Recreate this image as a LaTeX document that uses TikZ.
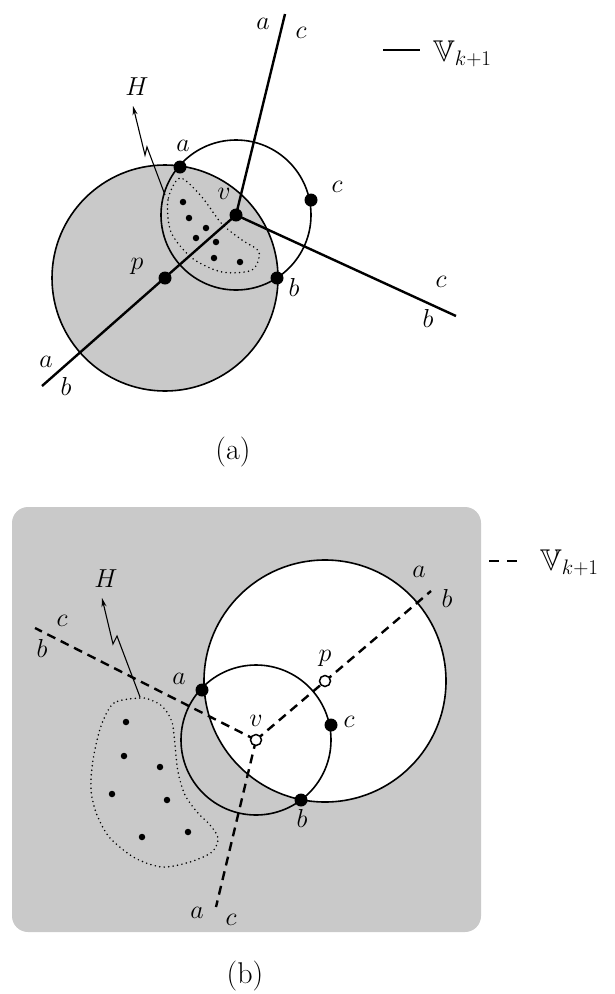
\RequirePackage{fix-cm}
\documentclass[tikz,border=0pt]{standalone}
\usepackage{amssymb}
\usetikzlibrary{arrows.meta}
\definecolor{bgray}{gray}{0.79}
\begin{document}
\begin{tikzpicture}[x=1pt,y=-1pt,
  lbl/.style={font=\fontsize{26}{30}\selectfont, inner sep=0pt},
  legtxt/.style={font=\fontsize{30}{34}\selectfont, inner sep=0pt, anchor=west},
  captxt/.style={font=\fontsize{30}{34}\selectfont, inner sep=0pt},
  dotb/.style={circle, fill=black, inner sep=0pt, minimum size=13pt},
  dots/.style={circle, fill=black, inner sep=0pt, minimum size=6.5pt},
  odot/.style={circle, draw=black, fill=white, line width=1.5pt, inner sep=0pt, minimum size=11pt},
  solidln/.style={line width=2.4pt},
  dashln/.style={line width=2.4pt, dash pattern=on 9pt off 6pt},
  circ/.style={line width=1.6pt},
  hull/.style={line width=1.7pt, dash pattern=on 0pt off 4.5pt, line cap=round},
  harrow/.style={line width=1.1pt, -{Stealth[length=9pt,width=5pt]}}
]
\useasboundingbox (0,0) rectangle (615,994);

% ================= (a) =================
\coordinate (P) at (165,278);
\coordinate (V) at (236,215);
\coordinate (Ae) at (42,386);
\coordinate (Ue) at (285,14);
\coordinate (Re) at (456,316);
\fill[bgray] (P) circle (113pt);
\draw[circ] (P) circle (113pt);
\draw[circ] (V) circle (75pt);

\draw[hull] plot[smooth cycle] coordinates {(180,178) (168,200) (171,232) (192,258) (222,272) (252,270) (259,252) (242,240) (222,224) (201,196)};
\foreach \i/\p in {1/{(183,202)},2/{(189,218)},3/{(206,228)},4/{(196,238)},5/{(216,242)},6/{(214,258)},7/{(240,262)}}
  \node[dots] (ta\i) at \p {};

\draw[solidln] (Ae) -- (V);
\draw[solidln] (V) -- (Ue);
\draw[solidln] (V) -- (Re);

\node[dotb] (ta) at (180,167) {};
\node[dotb] (tb) at (277,278) {};
\node[dotb] (tc) at (311,200) {};
\node[dotb] (tp) at (P) {};
\node[dotb] (tv) at (V) {};

\node[lbl] at (183,146) {$a$};
\node[lbl] at (224,194) {$v$};
\node[lbl] at (337,187) {$c$};
\node[lbl] at (294,287) {$b$};
\node[lbl] at (137,266) {$p$};
\node[lbl] at (263,24) {$a$};
\node[lbl] at (301,33) {$c$};
\node[lbl] at (441,282) {$c$};
\node[lbl] at (428,318) {$b$};
\node[lbl] at (46,362) {$a$};
\node[lbl] at (66,386) {$b$};
\node[lbl] (tH) at (137,87) {$H$};
\coordinate (tHe) at (165,195);
\coordinate (tHt) at (133,106);
\draw[harrow] (tHe) -- (147,147) -- (145,155) -- (tHt);

\coordinate (l1a) at (383,50);
\coordinate (l1b) at (420,50);
\draw[solidln] (l1a) -- (l1b);
\node[legtxt] at (433,54) {$\mathbb{V}_{k+1}$};

\node[captxt] at (233,452) {(a)};

% ================= (b) =================
\fill[bgray, rounded corners=16pt] (12,507) rectangle (481,932);
\coordinate (Pb) at (325,681);
\coordinate (Vb) at (256,740);
\coordinate (Ub) at (431,591);
\coordinate (Lb) at (35,628);
\coordinate (Db) at (216,907);
\fill[white] (Pb) circle (121pt);
\draw[circ] (Pb) circle (121pt);
\draw[circ] (Vb) circle (75pt);

\draw[hull] plot[smooth cycle] coordinates {(140,698) (114,703) (101,726) (93,760) (91,790) (97,815) (110,838) (135,858) (162,867) (190,862) (212,852) (218,838) (210,825) (197,812) (185,795) (178,772) (175,745) (172,722) (163,707) (151,700)};
\foreach \i/\p in {1/{(126,722)},2/{(124,756)},3/{(160,767)},4/{(112,794)},5/{(167,800)},6/{(142,837)},7/{(188,832)}}
  \node[dots] (bd\i) at \p {};

\draw[dashln] (Vb) -- (Ub);
\draw[dashln] (Vb) -- (Lb);
\draw[dashln] (Vb) -- (Db);

\node[dotb] (ba) at (202,690) {};
\node[dotb] (bb) at (301,800) {};
\node[dotb] (bc) at (331,725) {};
\node[odot] (bp) at (Pb) {};
\node[odot] (bv) at (Vb) {};

\node[lbl] at (179,679) {$a$};
\node[lbl] at (256,721) {$v$};
\node[lbl] at (325,658) {$p$};
\node[lbl] at (349,722) {$c$};
\node[lbl] at (302,818) {$b$};
\node[lbl] at (419,572) {$a$};
\node[lbl] at (447,598) {$b$};
\node[lbl] at (62,621) {$c$};
\node[lbl] at (42,648) {$b$};
\node[lbl] at (197,913) {$a$};
\node[lbl] at (231,920) {$c$};
\node[lbl] (bH) at (106,579) {$H$};
\coordinate (bHe) at (140,697);
\coordinate (bHt) at (102,598);
\draw[harrow] (bHe) -- (117,636) -- (113,644) -- (bHt);

\coordinate (l2a) at (489,561);
\coordinate (l2b) at (519,561);
\draw[dashln, dash pattern=on 10pt off 8pt] (l2a) -- (l2b);
\node[legtxt] at (540,563) {$\mathbb{V}_{k+1}$};

\node[captxt] at (245,976) {(b)};
\end{tikzpicture}
\end{document}
